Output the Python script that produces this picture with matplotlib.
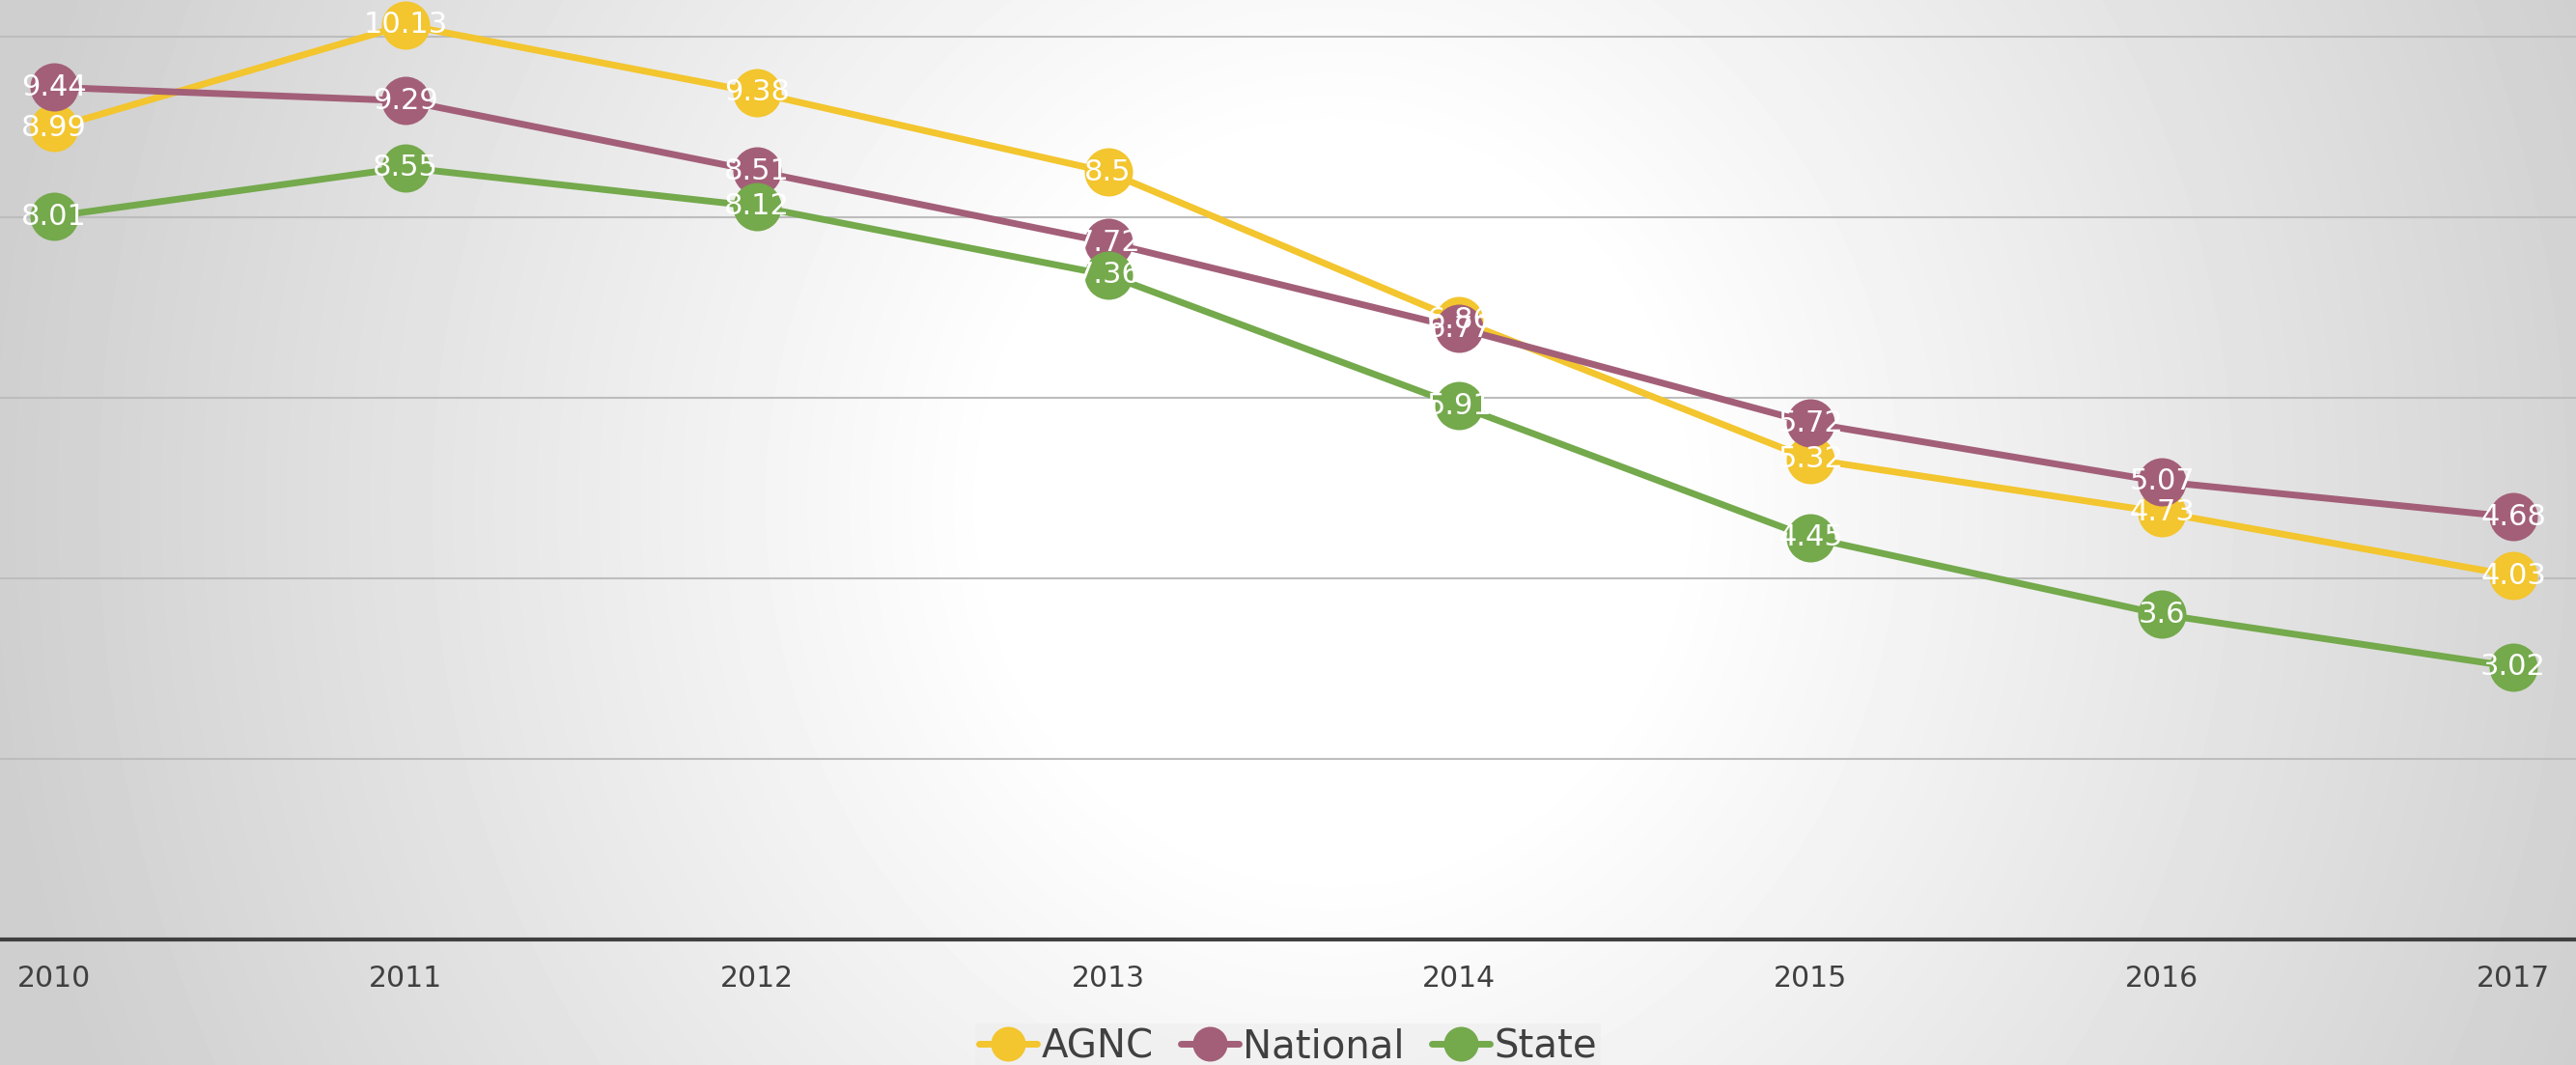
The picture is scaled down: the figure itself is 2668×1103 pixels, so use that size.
import numpy as np
import matplotlib
matplotlib.use("Agg")
import matplotlib.pyplot as plt

years = ["2010", "2011", "2012", "2013", "2014", "2015", "2016", "2017"]
agnc = [8.99, 10.13, 9.38, 8.5, 6.86, 5.32, 4.73, 4.03]
national = [9.44, 9.29, 8.51, 7.72, 6.77, 5.72, 5.07, 4.68]
state = [8.01, 8.55, 8.12, 7.36, 5.91, 4.45, 3.6, 3.02]

series = [("AGNC", agnc, "#F3C52E"),
          ("National", national, "#A35F78"),
          ("State", state, "#74A94C")]

W, H = 2668, 1103
fig = plt.figure(figsize=(W / 100, H / 100), dpi=100)

# radial grey-to-white background
bg = fig.add_axes([0, 0, 1, 1], zorder=-1)
yy, xx = np.mgrid[0:H, 0:W]
d = np.sqrt(((xx - 1380) / 1400.0) ** 2 + ((yy - 520) / 1500.0) ** 2)
shade = 1 - 0.19 * np.clip((d - 0.25) / 0.75, 0, 1)
bg.imshow(shade, cmap="gray", vmin=0, vmax=1, aspect="auto", interpolation="bilinear")
bg.axis("off")

ax = fig.add_axes([0, (H - 973) / H, 1, 973 / H])
ax.set_facecolor("none")
x = np.arange(len(years))

for name, vals, col in series:
    ax.plot(x, vals, color=col, lw=5, marker="o", ms=36, mec=col,
            mew=0, label=name, zorder=3, solid_capstyle="round")
for name, vals, col in series:
    for xi, v in zip(x, vals):
        ax.text(xi, v, f"{v:g}", color="white", fontsize=22,
                ha="center", va="center", zorder=5)

ax.set_xlim(-56 / 363.9, 7 + (W - 2603) / 363.9)
ax.set_ylim(0, 973 / 93.5)
ax.set_yticks([2, 4, 6, 8, 10])
ax.yaxis.grid(True, color="#BDBDBD", lw=1.5)
ax.set_axisbelow(True)
ax.tick_params(axis="y", left=False, labelleft=False)
ax.set_xticks(x)
ax.set_xticklabels(years, fontsize=21.5, color="#404040")
ax.tick_params(axis="x", length=0, pad=19)
for s in ["top", "right", "left"]:
    ax.spines[s].set_visible(False)
ax.spines["bottom"].set_color("#404040")
ax.spines["bottom"].set_linewidth(3)
ax.spines["bottom"].set_zorder(2)

leg = ax.legend(loc="upper center", bbox_to_anchor=(0.5, 1 - 1040 / H),
                bbox_transform=fig.transFigure, ncol=3, frameon=True,
                fontsize=29, handlelength=1.5, handletextpad=0.1,
                columnspacing=0.7, borderpad=0.1, markerscale=0.72,
                fancybox=False)
leg.get_frame().set_facecolor("#EDEDED")
leg.get_frame().set_alpha(0.6)
leg.get_frame().set_linewidth(0)
for t in leg.get_texts():
    t.set_color("#404040")

fig.savefig("out.png", dpi=100)
